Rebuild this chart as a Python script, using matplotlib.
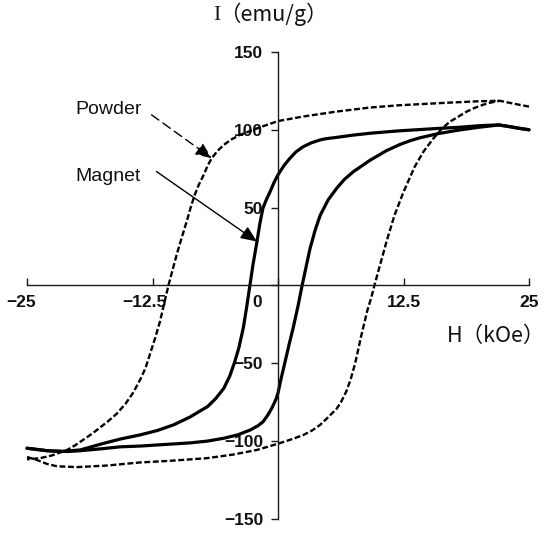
import matplotlib
matplotlib.use("Agg")
import matplotlib.pyplot as plt
import matplotlib.transforms as mtransforms
from matplotlib.font_manager import FontProperties

# ---------------- data ----------------
# Magnet (solid) hysteresis loop: descending branch
mag_up_H = [25, 24, 23, 22, 21, 20, 18, 16, 14, 12, 10.5, 9.2, 7.5, 5.8, 4.8, 4.2,
            3.3, 2.5, 1.8, 1.2, 0.6, 0, -0.4, -0.8, -1.2, -1.5, -1.8, -2.1, -2.5,
            -2.8, -3.1, -3.45, -3.9, -4.3, -4.8, -5.4, -6.2, -7.0, -8.8, -10.4,
            -12, -13.7, -15.7, -17.5, -19.7, -21.5, -23, -25]
mag_up_I = [100, 100.8, 102, 103, 102.8, 102.5, 101.5, 100.8, 100, 99.2, 98.4, 97.7,
            96.5, 95, 94.2, 93.4, 91.5, 89, 85.8, 81.7, 77, 71, 66, 60, 54.5, 49.6,
            40, 28, 13, 0, -13, -27, -40, -48.8, -58, -66, -72.5, -77.6, -84.5,
            -89.4, -93, -95.8, -98.5, -101.5, -105.5, -106.5, -106, -104.4]
# Magnet: ascending branch
mag_lo_H = [-25, -23, -21, -19.7, -17.5, -15.7, -13.7, -10.8, -8.8, -7, -5.4, -4,
            -2.8, -2, -1.5, -1, -0.6, -0.2, 0, 0.3, 0.7, 1.1, 1.5, 2, 2.4, 2.8, 3.2,
            3.7, 4.2, 5, 5.85, 6.6, 7.5, 9.2, 10.8, 12.15, 13.2, 14.1, 16, 18, 20,
            22, 23.5, 25]
mag_lo_I = [-104.4, -106, -106.5, -106, -104.7, -103.5, -103, -101.8, -101, -99.8,
            -98, -95.8, -92.8, -90, -87.5, -83, -78.5, -73, -69, -60, -49, -38,
            -27.5, -13, 0, 12, 24, 35.5, 45, 55, 62.4, 68, 73, 80.5, 86.5, 90.5, 93,
            94.7, 97.5, 99.7, 101.5, 103, 101.5, 99.8]

# Powder (dashed) hysteresis loop: descending branch
pow_up_H = [25, 24, 23, 22.1, 20, 17, 14, 12, 9.2, 5.85, 2.5, 0, -1.8, -3.8, -4.7,
            -5.4, -6, -6.6, -7, -7.4, -7.9, -8.3, -8.7, -9.1, -9.6, -10.1, -10.5,
            -10.9, -11.3, -11.75, -12.25, -12.75, -13.2, -13.7, -14.4, -15.2,
            -16.1, -17, -17.7, -18.5, -19.4, -20.2, -21, -22.5, -23.7, -25]
pow_up_I = [114.8, 116, 117.3, 118.5, 118.2, 117.3, 116.3, 115.6, 114.2, 111.6,
            108.4, 105.5, 101.5, 96.6, 93.5, 90.2, 86.5, 81.7, 77, 71, 64.5, 58, 50,
            41, 30.5, 19.6, 10, 0.4, -10.5, -23, -34, -44, -53, -60, -68.5, -76,
            -82.5, -87.5, -91, -95, -99, -102.5, -105.5, -109, -110.8, -111.5]
# Powder: ascending branch
pow_lo_H = [-25, -24, -23, -22, -20, -17, -13.7, -10.8, -7.1, -4.5, -2.1, 0, 1.2,
            2.5, 3.4, 4.2, 5, 5.85, 6.3, 6.8, 7.25, 7.7, 8.3, 8.9, 9.3, 9.6, 10.2,
            10.8, 11.6, 12.5, 13.6, 14.5, 15.5, 16.3, 17.1, 18, 18.8, 19.6, 20.4,
            21.2, 22.1]
pow_lo_I = [-110, -112, -114.5, -116, -116.5, -115.5, -113.5, -112.5, -110.8,
            -108.5, -105.5, -101.5, -99, -96, -93, -89.4, -84.5, -79, -74.5, -68,
            -60, -49.5, -32, -16, -7.5, 0, 14, 28, 45, 60, 76, 86, 94.5, 100.5, 105,
            108.5, 111.6, 114, 115.9, 117.4, 118.5]

x_ticks = [-25, -12.5, 0, 12.5, 25]
x_tick_labels = ["\u221225", "\u221212.5", "0", "12.5", "25"]
y_ticks = [-150, -100, -50, 0, 50, 100, 150]
y_tick_labels = ["\u2212150", "\u2212100", "\u221250", "", "50", "100", "150"]

# annotation arrows (start -> tip, data coords)
powder_arrow = ((-12.6, 109.5), (-6.6, 81.7))
magnet_arrow = ((-12.1, 73.1), (-2.1, 28.2))

# ---------------- figure ----------------
W, H = 550, 538
fig = plt.figure(figsize=(W / 100, H / 100), dpi=100)
ax = fig.add_axes([27 / W, (H - 519.3) / H, 502 / W, 467.6 / H])
ax.set_xlim(-25, 25)
ax.set_ylim(-150, 150)
ax.patch.set_visible(False)

for s in ("top", "right"):
    ax.spines[s].set_visible(False)
for s in ("left", "bottom"):
    ax.spines[s].set_position(("data", 0))
    ax.spines[s].set_linewidth(1.0)
    ax.spines[s].set_color("#1a1a1a")

tick_font = FontProperties(family="Liberation Sans", weight="bold", size=12.5)
ax.set_xticks(x_ticks, labels=x_tick_labels)
ax.set_yticks(y_ticks, labels=y_tick_labels)
ax.tick_params(axis="x", direction="in", length=5.3, width=1.0, pad=7, color="#1a1a1a")
ax.tick_params(axis="y", direction="out", length=5.3, width=1.0, pad=5.4, color="#1a1a1a")
for lab in ax.get_xticklabels() + ax.get_yticklabels():
    lab.set_fontproperties(tick_font)
    lab.set_color("#111111")

# shift negative x labels (minus sign hangs left) and the origin "0"
x_shift = {"\u221225": -6, "\u221212.5": -8, "0": -20.5}
for lab in ax.get_xticklabels():
    dx = x_shift.get(lab.get_text(), 0)
    if dx:
        lab.set_transform(lab.get_transform() +
                          mtransforms.ScaledTranslation(dx / 100, 0, fig.dpi_scale_trans))

# curves
dash = (0, (2.5, 1.1))
ax.plot(pow_up_H, pow_up_I, color="black", lw=1.7, linestyle=dash, clip_on=False)
ax.plot(pow_lo_H, pow_lo_I, color="black", lw=1.7, linestyle=dash, clip_on=False)
ax.plot(mag_up_H, mag_up_I, color="black", lw=2.3, clip_on=False,
        solid_capstyle="round", solid_joinstyle="round")
ax.plot(mag_lo_H, mag_lo_I, color="black", lw=2.3, clip_on=False,
        solid_capstyle="round", solid_joinstyle="round")

# arrows
ax.annotate("", xy=powder_arrow[1], xytext=powder_arrow[0],
            arrowprops=dict(arrowstyle="-|>,head_length=0.7,head_width=0.3",
                            lw=1.0, color="black", linestyle=(0, (6.5, 3.6)),
                            shrinkA=0, shrinkB=0, mutation_scale=14))
ax.annotate("", xy=magnet_arrow[1], xytext=magnet_arrow[0],
            arrowprops=dict(arrowstyle="-|>,head_length=0.7,head_width=0.3",
                            lw=1.0, color="black",
                            shrinkA=0, shrinkB=0, mutation_scale=14))

# series labels
lab_font = dict(family="Liberation Sans", size=14, color="#111111")
fig.text(75 / W, 1 - 114 / H, "Powder", va="baseline", ha="left", **lab_font)
fig.text(75 / W, 1 - 181 / H, "Magnet", va="baseline", ha="left", **lab_font)

# axis titles
fig.text(213 / W, 1 - 20.5 / H, "I", family="Liberation Serif", size=15.5,
         va="baseline", ha="left", color="#111111")
fig.text(219 / W, 1 - 20.5 / H, "\uff08emu/g\uff09", family=["Noto Sans CJK JP", "DejaVu Sans"],
         size=15.5, va="baseline", ha="left", color="#111111")
fig.text(447 / W, 1 - 342 / H, "H\uff08kOe\uff09", family=["Noto Sans CJK JP", "DejaVu Sans"],
         size=15.5, va="baseline", ha="left", color="#111111")

fig.savefig("out.png", dpi=100)
